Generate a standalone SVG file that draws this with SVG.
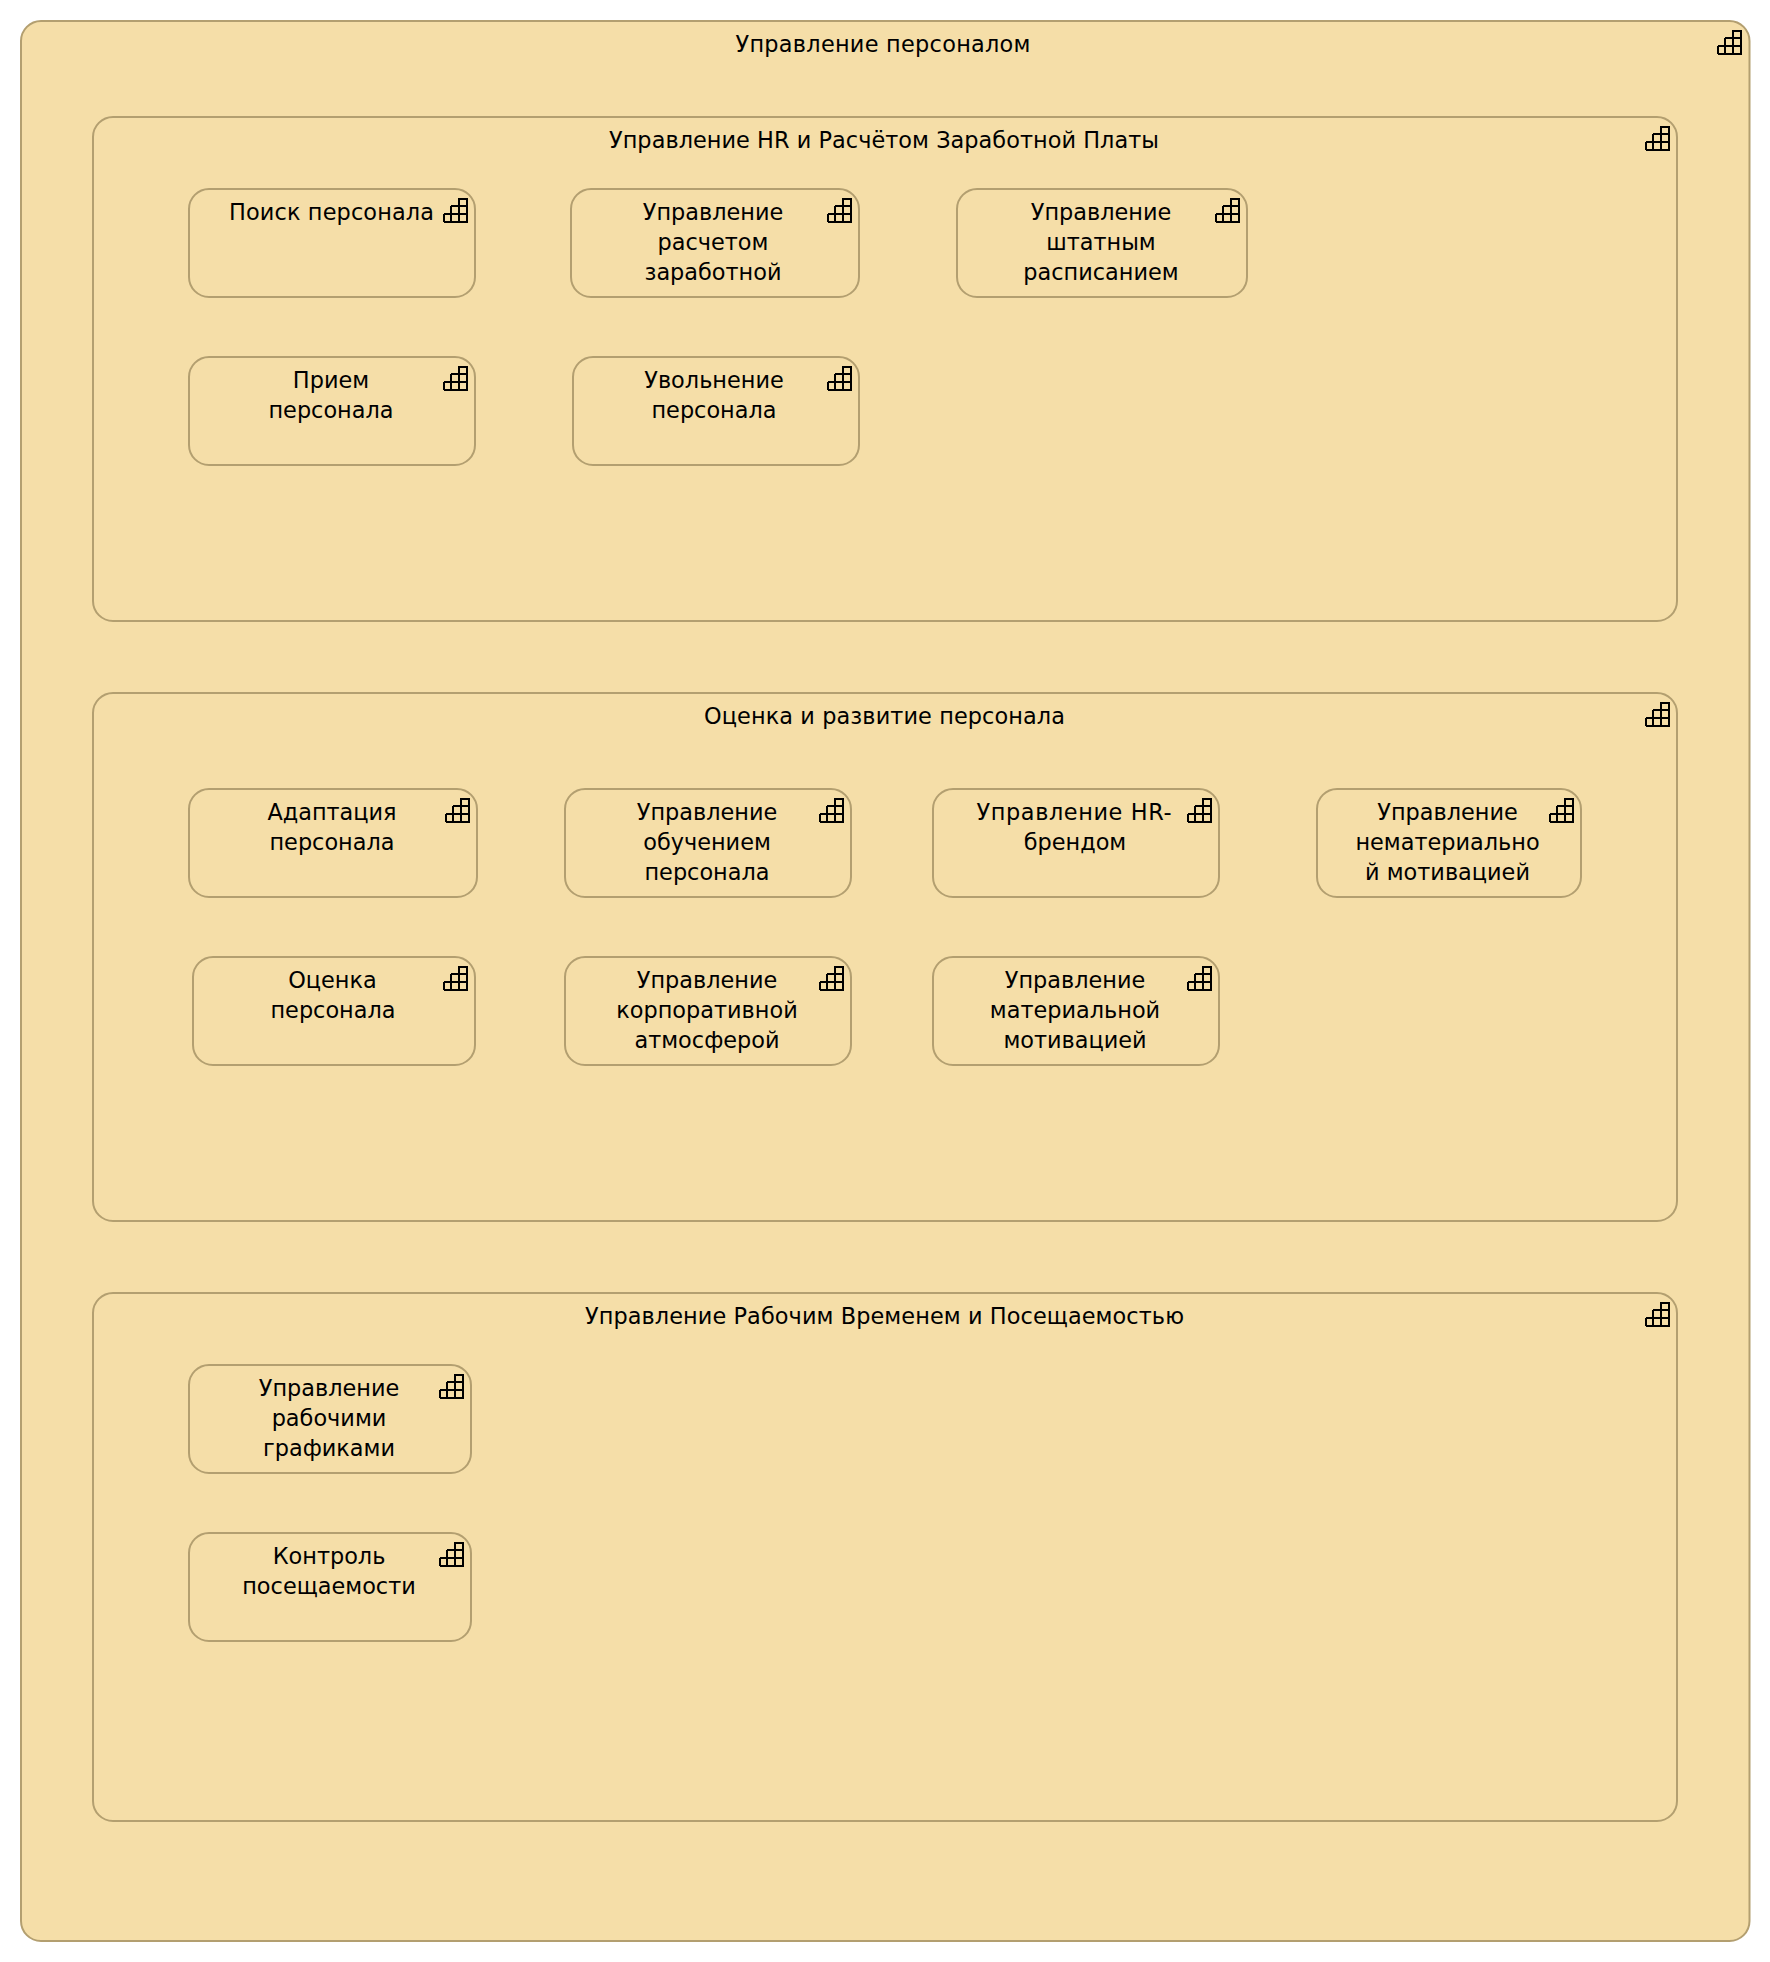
<svg xmlns="http://www.w3.org/2000/svg" width="1770" height="1962" viewBox="0 0 1770 1962">
<style>
.b{fill:#f5dea8;stroke:#b39f70;stroke-width:2}
text{font-family:"DejaVu Sans",sans-serif;font-size:22.4px;fill:#000;text-anchor:middle}
.i{fill:none;stroke:#000;stroke-width:2}
</style>
<defs>
<g id="ic"><path class="i" d="M-24 -1H-1V-24H-9V-1M-24 -9H-1M-24 -9V-1M-17 -17H-1M-17 -17V-1"/></g>
</defs>
<rect width="1770" height="1962" fill="#fff"/>
<g id="n0"><rect class="b" x="21" y="21" width="1728.5" height="1920" rx="20"/><text x="883" y="52" textLength="295">Управление персоналом</text><use href="#ic" x="1742" y="55"/></g>
<g id="g1"><rect class="b" x="93" y="117" width="1584" height="504" rx="20"/><text x="884" y="148" textLength="550">Управление HR и Расчётом Заработной Платы</text><use href="#ic" x="1670" y="151"/></g>
<g id="g2"><rect class="b" x="93" y="693" width="1584" height="528" rx="20"/><text x="884.5" y="724" textLength="361">Оценка и развитие персонала</text><use href="#ic" x="1670" y="727"/></g>
<g id="g3"><rect class="b" x="93" y="1293" width="1584" height="528" rx="20"/><text x="884.5" y="1324" textLength="599">Управление Рабочим Временем и Посещаемостью</text><use href="#ic" x="1670" y="1327"/></g>
<g id="n1"><rect class="b" x="189" y="189" width="286" height="108" rx="20"/><text x="331.5" y="220" textLength="205">Поиск персонала</text><use href="#ic" x="468" y="223"/></g>
<g id="n2"><rect class="b" x="571" y="189" width="288" height="108" rx="20"/><text x="713" y="220">Управление</text><text x="713" y="250">расчетом</text><text x="713" y="280">заработной</text><use href="#ic" x="852" y="223"/></g>
<g id="n3"><rect class="b" x="957" y="189" width="290" height="108" rx="20"/><text x="1101" y="220">Управление</text><text x="1101" y="250">штатным</text><text x="1101" y="280">расписанием</text><use href="#ic" x="1240" y="223"/></g>
<g id="n4"><rect class="b" x="189" y="357" width="286" height="108" rx="20"/><text x="331" y="388">Прием</text><text x="331" y="418">персонала</text><use href="#ic" x="468" y="391"/></g>
<g id="n5"><rect class="b" x="573" y="357" width="286" height="108" rx="20"/><text x="714" y="388">Увольнение</text><text x="714" y="418">персонала</text><use href="#ic" x="852" y="391"/></g>
<g id="n6"><rect class="b" x="189" y="789" width="288" height="108" rx="20"/><text x="332" y="820">Адаптация</text><text x="332" y="850">персонала</text><use href="#ic" x="470" y="823"/></g>
<g id="n7"><rect class="b" x="565" y="789" width="286" height="108" rx="20"/><text x="707" y="820">Управление</text><text x="707" y="850">обучением</text><text x="707" y="880">персонала</text><use href="#ic" x="844" y="823"/></g>
<g id="n8"><rect class="b" x="933" y="789" width="286" height="108" rx="20"/><text x="1074" y="820" textLength="195">Управление HR-</text><text x="1075" y="850">брендом</text><use href="#ic" x="1212" y="823"/></g>
<g id="n9"><rect class="b" x="1317" y="789" width="264" height="108" rx="20"/><text x="1447.5" y="820">Управление</text><text x="1447.5" y="850">нематериально</text><text x="1447.5" y="880">й мотивацией</text><use href="#ic" x="1574" y="823"/></g>
<g id="n10"><rect class="b" x="193" y="957" width="282" height="108" rx="20"/><text x="332.5" y="988">Оценка</text><text x="333" y="1018">персонала</text><use href="#ic" x="468" y="991"/></g>
<g id="n11"><rect class="b" x="565" y="957" width="286" height="108" rx="20"/><text x="707" y="988">Управление</text><text x="707" y="1018">корпоративной</text><text x="707" y="1048">атмосферой</text><use href="#ic" x="844" y="991"/></g>
<g id="n12"><rect class="b" x="933" y="957" width="286" height="108" rx="20"/><text x="1075" y="988">Управление</text><text x="1075" y="1018">материальной</text><text x="1075" y="1048">мотивацией</text><use href="#ic" x="1212" y="991"/></g>
<g id="n13"><rect class="b" x="189" y="1365" width="282" height="108" rx="20"/><text x="329" y="1396">Управление</text><text x="329" y="1426">рабочими</text><text x="329" y="1456">графиками</text><use href="#ic" x="464" y="1399"/></g>
<g id="n14"><rect class="b" x="189" y="1533" width="282" height="108" rx="20"/><text x="329" y="1564">Контроль</text><text x="329" y="1594">посещаемости</text><use href="#ic" x="464" y="1567"/></g>
<g id="connectors"></g>
</svg>
